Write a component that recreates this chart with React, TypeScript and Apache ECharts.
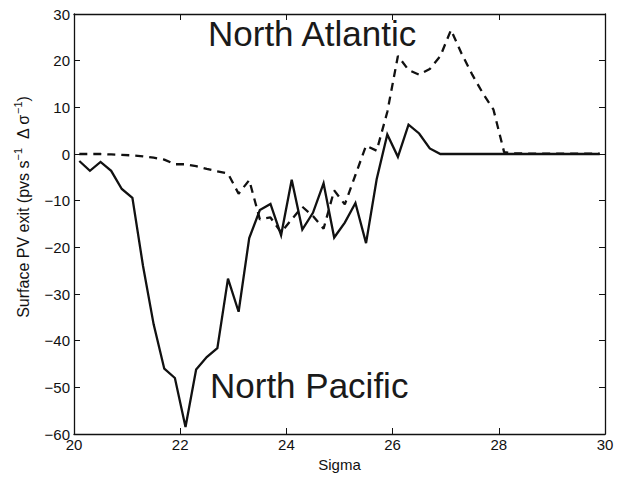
import React, { useEffect, useRef } from "react";
import * as echarts from "echarts";

const sigma = [
  20.1, 20.3, 20.5, 20.7, 20.9, 21.1, 21.3, 21.5, 21.7, 21.9,
  22.1, 22.3, 22.5, 22.7, 22.9, 23.1, 23.3, 23.5, 23.7, 23.9,
  24.1, 24.3, 24.5, 24.7, 24.9, 25.1, 25.3, 25.5, 25.7, 25.9,
  26.1, 26.3, 26.5, 26.7, 26.9, 27.1, 27.3, 27.5, 27.7, 27.9,
  28.1, 28.3, 28.5, 28.7, 28.9, 29.1, 29.3, 29.5, 29.7, 29.9,
];

const northPacific = [
  -1.5, -3.6, -1.7, -3.6, -7.5, -9.4, -24, -36.5, -46, -48,
  -58.5, -46.2, -43.5, -41.6, -26.7, -33.8, -18, -12, -10.7, -17.4,
  -5.5, -16.2, -12.6, -6.3, -17.9, -14.7, -10.5, -19.1, -5.4, 4.2,
  -0.6, 6.3, 4.4, 1.2, 0, 0, 0, 0, 0, 0,
  0, 0, 0, 0, 0, 0, 0, 0, 0, 0,
];

const northAtlantic = [
  0, 0, 0, -0.1, -0.2, -0.3, -0.5, -0.8, -1.2, -2.2,
  -2.2, -2.6, -3.2, -3.7, -4.2, -8.5, -5.6, -14, -13.6, -16.8,
  -14, -11.3, -13.3, -16, -7.8, -10.8, -4.5, 1.8, 0.7, 9,
  21, 18, 17, 18.2, 21, 26.6, 21.5, 17, 13, 9.5,
  0.4, 0.15, 0.1, 0.1, 0.1, 0.1, 0.1, 0.1, 0.1, 0.1,
];

const xTicks = { min: 20, max: 30, interval: 2 };
const yTicks = { min: -60, max: 30, interval: 10 };

const FONT = "'Liberation Sans', Arial, Helvetica, sans-serif";
const INK = "#111111";

function fmt(v: number): string {
  return v < 0 ? "\u2212" + Math.abs(v) : String(v);
}

export default function App() {
  const ref = useRef<HTMLDivElement | null>(null);

  useEffect(() => {
    if (!ref.current) return;
    const chart = echarts.init(ref.current, undefined, { renderer: "svg" });
    const axisLine = { show: true, onZero: false, lineStyle: { color: INK, width: 1.3 } };
    const tick = { show: true, inside: true, length: 6, lineStyle: { color: INK, width: 1 } };
    chart.setOption({
      animation: false,
      backgroundColor: "#ffffff",
      grid: { left: 74, right: 20, top: 14, bottom: 44, containLabel: false },
      xAxis: [
        {
          type: "value",
          min: xTicks.min,
          max: xTicks.max,
          interval: xTicks.interval,
          position: "bottom",
          axisLine,
          axisTick: tick,
          splitLine: { show: false },
          axisLabel: { color: INK, fontFamily: FONT, fontSize: 15, margin: 3, formatter: fmt },
          name: "Sigma",
          nameLocation: "middle",
          nameGap: 20,
          nameTextStyle: { color: INK, fontFamily: FONT, fontSize: 15 },
        },
        {
          type: "value",
          min: xTicks.min,
          max: xTicks.max,
          interval: xTicks.interval,
          position: "top",
          axisLine,
          axisTick: tick,
          splitLine: { show: false },
          axisLabel: { show: false },
        },
      ],
      yAxis: [
        {
          type: "value",
          min: yTicks.min,
          max: yTicks.max,
          interval: yTicks.interval,
          position: "left",
          axisLine,
          axisTick: tick,
          splitLine: { show: false },
          axisLabel: { color: INK, fontFamily: FONT, fontSize: 15, margin: 4, formatter: fmt },
        },
        {
          type: "value",
          min: yTicks.min,
          max: yTicks.max,
          interval: yTicks.interval,
          position: "right",
          axisLine,
          axisTick: tick,
          splitLine: { show: false },
          axisLabel: { show: false },
        },
      ],
      series: [
        {
          name: "North Pacific",
          type: "line",
          symbol: "none",
          xAxisIndex: 0,
          yAxisIndex: 0,
          data: sigma.map((s, i) => [s, northPacific[i]]),
          lineStyle: { color: INK, width: 2.3, join: "miter" },
          z: 3,
        },
        {
          name: "North Atlantic",
          type: "line",
          symbol: "none",
          xAxisIndex: 0,
          yAxisIndex: 0,
          data: sigma.map((s, i) => [s, northAtlantic[i]]),
          lineStyle: { color: INK, width: 2.3, type: [8, 6] },
          z: 2,
        },
      ],
      graphic: [
        {
          type: "text",
          left: 208,
          top: 16,
          style: { text: "North Atlantic", fontFamily: FONT, fontSize: 35, fill: "#1a1a1a" },
        },
        {
          type: "text",
          left: 210,
          top: 368,
          style: { text: "North Pacific", fontFamily: FONT, fontSize: 35, fill: "#1a1a1a" },
        },
        {
          type: "text",
          x: 22,
          y: 207,
          rotation: Math.PI / 2,
          style: {
            text: "{n|Surface PV exit (pvs s}{s|\u22121}{n|  \u0394 \u03c3}{s|\u22121}{n|)}",
            fontFamily: FONT,
            align: "center",
            verticalAlign: "middle",
            fill: INK,
            rich: {
              n: { fontSize: 16, fontFamily: FONT, fill: INK, lineHeight: 19, verticalAlign: "bottom" },
              s: { fontSize: 11, fontFamily: FONT, fill: INK, lineHeight: 12, verticalAlign: "top" },
            },
          },
        },
      ],
    });
    return () => chart.dispose();
  }, []);

  return (
    <div
      ref={ref}
      style={{ position: "absolute", left: 0, top: 0, width: 625, height: 478 }}
    />
  );
}
